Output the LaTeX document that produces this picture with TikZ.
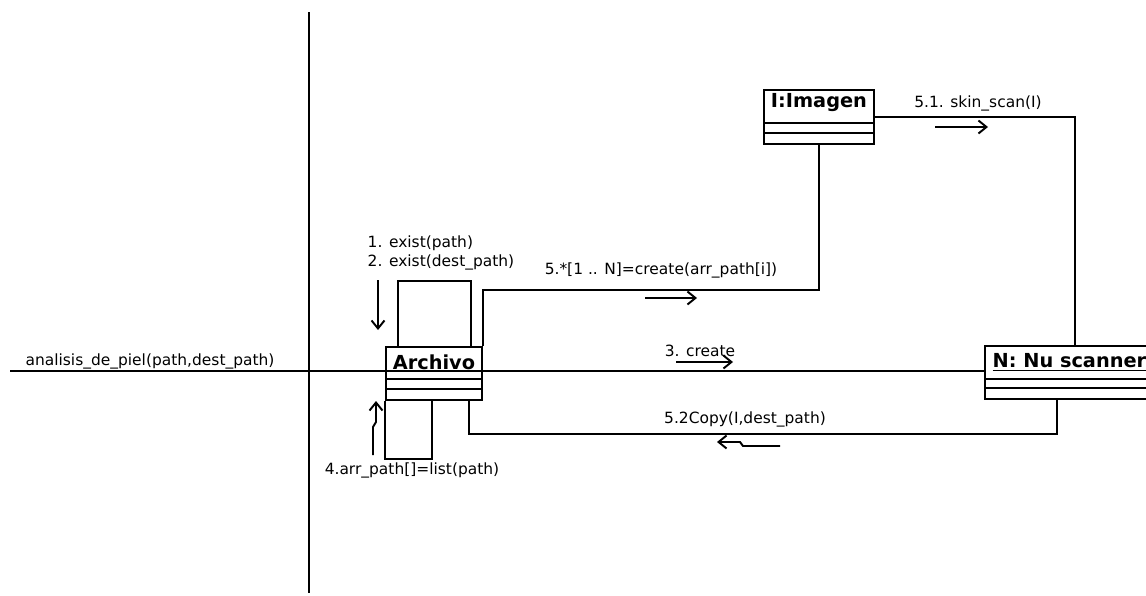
\documentclass[tikz,border=0pt]{standalone}
\usepackage{fontspec}
\setmainfont{DejaVu Sans}
\usetikzlibrary{arrows.meta, positioning, calc}

\begin{document}
\begin{tikzpicture}[x=0.02cm, y=-0.02cm, line width=1.1pt,
    objbox/.style={rectangle, draw, anchor=north west, inner sep=0pt},
    objname/.style={font=\fontsize{11}{13}\selectfont\bfseries, inner sep=1pt},
    msg/.style={font=\fontsize{8.8}{11.3}\selectfont, inner sep=1pt},
    flow/.style={-{Straight Barb[length=1.6mm, width=2.6mm]}}
]
\useasboundingbox (0,0) rectangle (1146,595);

% objetos
\node[objbox, minimum width=1.92cm, minimum height=1.06cm] (arch) at (385,346) {};
\node[objbox, minimum width=2.2cm, minimum height=1.08cm] (img) at (763,89) {};
\node[objbox, minimum width=3.6cm, minimum height=1.06cm] (scan) at (984,345) {};
\node[objname] (archname) at ($(arch.north)+(0,16)$) {Archivo};
\node[objname] (imgname) at ($(img.north)+(0,14)$) {I:Imagen};
\node[objname, anchor=west] (scanname) at ($(scan.north west)+(6,17)$) {\underline{N: Nu scanner}};
\foreach \b/\d in {arch/33, arch/43, img/34, img/44, scan/34, scan/43}
    \draw ($(\b.north west)+(0,\d)$) -- ($(\b.north east)+(0,\d)$);

% limite y mensaje de entrada
\coordinate (bt) at (309,12);
\coordinate (bb) at (309,593);
\coordinate (start) at (10,371);
\draw (bt) -- (bb);
\draw (start) -- (start -| scan.west);

% enlaces
\draw ($(arch.north west)+(13,0)$) -- ++(0,-65) -| ($(arch.north east)+(-12,0)$);
\draw (arch.south west) -- ++(0,58) -| ($(arch.south west)+(47,0)$);
\draw (arch.north east) -- ++(0,-56) -| (img.south);
\draw (img.east) -| (scan.north);
\draw ($(arch.south east)+(-14,0)$) -- ++(0,33) -| ($(scan.south west)+(73,0)$);

% mensajes
\node[msg] (m0) at (150,361) {analisis\_de\_piel(path,dest\_path)};
\node[msg, anchor=west, align=left] (m12) at (365,253) {1. exist(path)\\2. exist(dest\_path)};
\node[msg] (m4) at (412,470) {4.arr\_path[]=list(path)};
\node[msg] (m5) at (661,270) {5.*[1 .. N]=create(arr\_path[i])};
\node[msg] (m3) at (700,351) {3. create};
\node[msg] (m52) at (745,419) {5.2Copy(I,dest\_path)};
\node[msg] (m51) at (978,103) {5.1. skin\_scan(I)};

\draw[flow] (378,280) -- (378,330);
\draw[flow] (373,455) -- (373,427) -- (376,422) -- (376,401);
\draw[flow] (645,298) -- (697,298);
\draw[flow] (676,362) -- (733,362);
\draw[flow] (935,127) -- (988,127);
\draw[flow] (780,446) -- (743,446) -- (740,442) -- (717,442);
\end{tikzpicture}
\end{document}
